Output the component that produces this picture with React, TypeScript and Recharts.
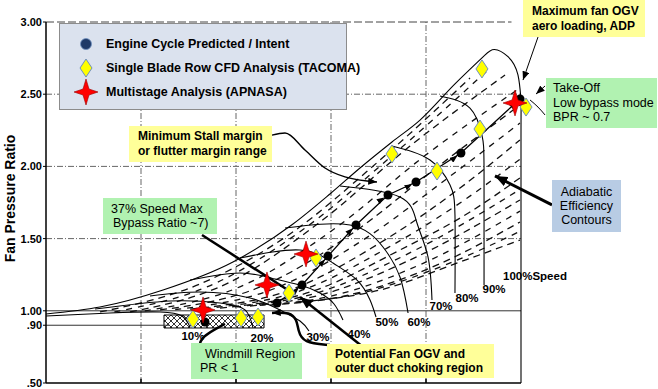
import React from "react";
import {
  ComposedChart,
  Line,
  Scatter,
  XAxis,
  YAxis,
  ReferenceLine,
  ReferenceArea,
  ReferenceDot,
} from "recharts";

type Pt = { x: number; y: number };

// values (x = flow, arbitrary units; y = fan pressure ratio)
const engineCycle: Pt[] = [
  { x: 1.674, y: 0.922 },
  { x: 2.432, y: 1.054 },
  { x: 2.695, y: 1.179 },
  { x: 2.968, y: 1.379 },
  { x: 3.263, y: 1.594 },
  { x: 3.6, y: 1.802 },
  { x: 3.895, y: 1.892 },
  { x: 4.368, y: 2.093 },
  { x: 4.99, y: 2.467 },
];
const tacoma: Pt[] = [
  { x: 1.547, y: 0.943 },
  { x: 2.053, y: 0.95 },
  { x: 2.232, y: 0.957 },
  { x: 2.558, y: 1.123 },
  { x: 2.842, y: 1.366 },
  { x: 3.642, y: 2.086 },
  { x: 4.116, y: 1.968 },
  { x: 4.568, y: 2.259 },
  { x: 4.589, y: 2.675 },
  { x: 5.053, y: 2.411 },
];
const apnasa: Pt[] = [
  { x: 1.653, y: 1.006 },
  { x: 2.326, y: 1.179 },
  { x: 2.737, y: 1.393 },
  { x: 4.937, y: 2.439 },
];

const yTicks = [0.5, 0.9, 1.0, 1.5, 2.0, 2.5, 3.0];
const gridY = [1.5, 2.0, 2.5];
const gridX = [1, 2, 3, 4];

const stallLine: Pt[] = [
  { x: 0, y: 0.978 },
  { x: 0.568, y: 1.026 },
  { x: 1.232, y: 1.144 },
  { x: 1.968, y: 1.338 },
  { x: 2.6, y: 1.601 },
  { x: 2.989, y: 1.809 },
  { x: 3.305, y: 1.989 },
  { x: 3.642, y: 2.169 },
  { x: 3.937, y: 2.321 },
  { x: 4.305, y: 2.571 },
  { x: 4.62, y: 2.77 },
];
const speed100: Pt[] = [
  { x: 4.62, y: 2.77 },
  { x: 4.72, y: 2.81 },
  { x: 4.863, y: 2.76 },
  { x: 4.968, y: 2.633 },
  { x: 5.0, y: 2.46 },
  { x: 5.0, y: 2.2 },
  { x: 5.0, y: 0.5 },
];
const speed10: Pt[] = [
  { x: 0, y: 0.964 },
  { x: 0.674, y: 0.985 },
  { x: 1.2, y: 0.992 },
  { x: 1.432, y: 0.964 },
  { x: 1.516, y: 0.888 },
];
const speed20: Pt[] = [
  { x: 0.516, y: 1.012 },
  { x: 1.305, y: 1.068 },
  { x: 1.832, y: 1.054 },
  { x: 2.095, y: 1.006 },
  { x: 2.179, y: 0.881 },
];
const speed30: Pt[] = [
  { x: 1.095, y: 1.102 },
  { x: 1.621, y: 1.13 },
  { x: 2.147, y: 1.089 },
  { x: 2.463, y: 1.006 },
  { x: 2.674, y: 0.929 },
  { x: 2.768, y: 0.86 },
];
const speed40: Pt[] = [
  { x: 1.516, y: 1.213 },
  { x: 2.042, y: 1.262 },
  { x: 2.411, y: 1.22 },
  { x: 2.674, y: 1.179 },
  { x: 2.884, y: 1.123 },
  { x: 3.032, y: 1.047 },
  { x: 3.126, y: 0.936 },
];
const speed50: Pt[] = [
  { x: 2.042, y: 1.366 },
  { x: 2.674, y: 1.421 },
  { x: 3.021, y: 1.331 },
  { x: 3.274, y: 1.213 },
  { x: 3.411, y: 1.075 },
  { x: 3.474, y: 0.957 },
];
const speed60: Pt[] = [
  { x: 2.516, y: 1.573 },
  { x: 3.2, y: 1.594 },
  { x: 3.547, y: 1.442 },
  { x: 3.726, y: 1.234 },
  { x: 3.811, y: 0.985 },
];
const speed70: Pt[] = [
  { x: 3.095, y: 1.864 },
  { x: 3.726, y: 1.788 },
  { x: 3.905, y: 1.608 },
  { x: 4.021, y: 1.373 },
  { x: 4.063, y: 1.075 },
];
const speed80: Pt[] = [
  { x: 3.642, y: 2.141 },
  { x: 4.042, y: 2.044 },
  { x: 4.253, y: 1.871 },
  { x: 4.305, y: 1.663 },
  { x: 4.305, y: 1.123 },
];
const speed90: Pt[] = [
  { x: 4.147, y: 2.488 },
  { x: 4.463, y: 2.404 },
  { x: 4.589, y: 2.217 },
  { x: 4.611, y: 1.975 },
  { x: 4.611, y: 1.179 },
];

// adiabatic efficiency contours (dashed)
const contour1: Pt[] = [
  { x: 0.568, y: 0.992 },
  { x: 1.621, y: 1.186 },
  { x: 2.568, y: 1.532 },
  { x: 3.516, y: 2.044 },
  { x: 4.463, y: 2.612 },
];
const contour2: Pt[] = [
  { x: 0.72, y: 0.992 },
  { x: 1.78, y: 1.19 },
  { x: 2.72, y: 1.57 },
  { x: 3.67, y: 2.09 },
  { x: 4.64, y: 2.66 },
];
const contour3: Pt[] = [
  { x: 0.884, y: 0.992 },
  { x: 1.937, y: 1.199 },
  { x: 2.884, y: 1.615 },
  { x: 3.832, y: 2.141 },
  { x: 4.832, y: 2.633 },
];
const contour4: Pt[] = [
  { x: 1.04, y: 0.999 },
  { x: 2.09, y: 1.18 },
  { x: 3.04, y: 1.57 },
  { x: 3.99, y: 2.075 },
  { x: 4.96, y: 2.53 },
];
const contour5: Pt[] = [
  { x: 1.2, y: 1.006 },
  { x: 2.253, y: 1.165 },
  { x: 3.2, y: 1.525 },
  { x: 4.147, y: 2.01 },
  { x: 4.989, y: 2.425 },
];
const contour6: Pt[] = [
  { x: 1.36, y: 1.009 },
  { x: 2.41, y: 1.155 },
  { x: 3.36, y: 1.5 },
  { x: 4.25, y: 1.93 },
  { x: 4.989, y: 2.3 },
];
const contour7: Pt[] = [
  { x: 1.516, y: 1.012 },
  { x: 2.568, y: 1.144 },
  { x: 3.516, y: 1.47 },
  { x: 4.358, y: 1.85 },
  { x: 4.989, y: 2.183 },
];
const contour8: Pt[] = [
  { x: 1.67, y: 1.015 },
  { x: 2.67, y: 1.137 },
  { x: 3.62, y: 1.445 },
  { x: 4.41, y: 1.77 },
  { x: 4.989, y: 2.05 },
];
const contour9: Pt[] = [
  { x: 1.832, y: 1.019 },
  { x: 2.779, y: 1.13 },
  { x: 3.726, y: 1.421 },
  { x: 4.463, y: 1.684 },
  { x: 4.989, y: 1.92 },
];
const contour10: Pt[] = [
  { x: 1.99, y: 1.026 },
  { x: 2.83, y: 1.12 },
  { x: 3.78, y: 1.385 },
  { x: 4.989, y: 1.84 },
];
const contour11: Pt[] = [
  { x: 2.147, y: 1.033 },
  { x: 2.884, y: 1.109 },
  { x: 3.832, y: 1.352 },
  { x: 4.989, y: 1.767 },
];
const contour12: Pt[] = [
  { x: 2.25, y: 1.037 },
  { x: 2.99, y: 1.1 },
  { x: 3.94, y: 1.32 },
  { x: 4.989, y: 1.69 },
];
const contour13: Pt[] = [
  { x: 2.358, y: 1.04 },
  { x: 3.095, y: 1.096 },
  { x: 4.042, y: 1.296 },
  { x: 4.989, y: 1.615 },
];
const contour14: Pt[] = [
  { x: 2.5, y: 1.05 },
  { x: 3.3, y: 1.12 },
  { x: 4.2, y: 1.317 },
  { x: 4.989, y: 1.55 },
];
const contour15: Pt[] = [
  { x: 2.674, y: 1.061 },
  { x: 3.516, y: 1.144 },
  { x: 4.358, y: 1.338 },
  { x: 4.989, y: 1.49 },
];

const speedLabels = [
  { x: 1.547, y: 0.825, text: "10%" },
  { x: 2.274, y: 0.812, text: "20%" },
  { x: 2.863, y: 0.819, text: "30%" },
  { x: 3.295, y: 0.839, text: "40%" },
  { x: 3.589, y: 0.922, text: "50%" },
  { x: 3.926, y: 0.922, text: "60%" },
  { x: 4.158, y: 1.033, text: "70%" },
  { x: 4.432, y: 1.089, text: "80%" },
  { x: 4.716, y: 1.151, text: "90%" },
  { x: 5.147, y: 1.241, text: "100%Speed" },
];

// leader lines for the callouts
const stallLeader: Pt[] = [
  { x: 2.379, y: 2.217 },
  { x: 2.516, y: 2.231 },
  { x: 2.726, y: 2.114 },
  { x: 2.937, y: 1.989 },
  { x: 3.147, y: 1.927 },
  { x: 3.484, y: 1.892 },
];
const chokeLeader: Pt[] = [
  { x: 2.989, y: 0.763 },
  { x: 2.705, y: 0.777 },
  { x: 2.653, y: 0.867 },
  { x: 2.642, y: 0.936 },
  { x: 2.568, y: 0.992 },
  { x: 2.379, y: 0.985 },
];
const windmillLeader: Pt[] = [
  { x: 1.621, y: 0.715 },
  { x: 1.653, y: 0.812 },
  { x: 1.884, y: 0.909 },
];
const takeoffLeader: Pt[] = [
  { x: 5.095, y: 2.46 },
  { x: 5.179, y: 2.411 },
  { x: 5.253, y: 2.356 },
];
const operatingLine = engineCycle.slice(1);

const windmillBox = { x1: 1.242, x2: 2.295, y1: 0.881, y2: 0.971 };

const FONT = "'Liberation Sans', Arial, sans-serif";

const speedCurves = [speed10, speed20, speed30, speed40, speed50, speed60, speed70, speed80, speed90];
const contours = [
  contour1, contour2, contour3, contour4, contour5, contour6, contour7, contour8,
  contour9, contour10, contour11, contour12, contour13, contour14, contour15,
];

const Diamond = (p: any) => (
  <polygon
    points={`${p.cx},${p.cy - 9} ${p.cx + 6},${p.cy} ${p.cx},${p.cy + 9} ${p.cx - 6},${p.cy}`}
    fill="#ffff00"
    stroke="#6f8fbf"
    strokeWidth={1}
  />
);
const Star = (p: any) => (
  <polygon
    points={`${p.cx},${p.cy - 13} ${p.cx + 3},${p.cy - 3} ${p.cx + 12},${p.cy} ${p.cx + 3},${p.cy + 3} ${p.cx},${p.cy + 13} ${p.cx - 3},${p.cy + 3} ${p.cx - 12},${p.cy} ${p.cx - 3},${p.cy - 3}`}
    fill="#ff0000"
    stroke="#990000"
    strokeWidth={0.6}
  />
);
const Dot = (p: any) => <circle cx={p.cx} cy={p.cy} r={4.5} fill="#000" />;

type BoxProps = {
  left: number;
  top: number;
  width: number;
  height: number;
  bg: string;
  bold?: boolean;
  center?: boolean;
  size: number;
  lh: number;
  padTop: number;
  padLeft?: number;
  lines: string[];
  indents?: number[];
};
const Note = (b: BoxProps) => (
  <div
    style={{
      position: "absolute",
      left: b.left,
      top: b.top,
      width: b.width,
      height: b.height,
      background: b.bg,
      boxSizing: "border-box",
      paddingTop: b.padTop,
      paddingLeft: b.padLeft ?? 0,
      fontWeight: b.bold ? 700 : 400,
      fontSize: b.size,
      lineHeight: `${b.lh}px`,
      textAlign: b.center ? "center" : "left",
      whiteSpace: "nowrap",
      color: "#000",
    }}
  >
    {b.lines.map((l, i) => (
      <div key={l} style={{ paddingLeft: b.indents ? b.indents[i] : 0 }}>
        {l}
      </div>
    ))}
  </div>
);

const fmt = (v: number) => (v < 1 ? v.toFixed(2).slice(1) : v.toFixed(2));

export default function App() {
  return (
    <div
      style={{
        position: "absolute",
        left: 0,
        top: 0,
        width: 658,
        height: 389,
        background: "#fff",
        fontFamily: FONT,
        overflow: "hidden",
      }}
    >
      <ComposedChart width={658} height={389} margin={{ top: 22, right: 4, bottom: 6, left: 8 }}>
        <defs>
          <pattern id="hatch" width="6" height="6" patternUnits="userSpaceOnUse">
            <rect width="6" height="6" fill="#fff" />
            <path d="M0,0 L6,6 M6,0 L0,6" stroke="#000" strokeWidth={0.8} />
          </pattern>
          <marker id="arr" viewBox="0 0 10 8" refX="10" refY="4" markerWidth="9" markerHeight="7" markerUnits="userSpaceOnUse" orient="auto">
            <path d="M0,0 L10,4 L0,8 z" fill="#000" />
          </marker>
          <marker id="arrBig" viewBox="0 0 10 8" refX="10" refY="4" markerWidth="13" markerHeight="10" markerUnits="userSpaceOnUse" orient="auto">
            <path d="M0,0 L10,4 L0,8 z" fill="#000" />
          </marker>
          <marker id="arrMid" viewBox="0 0 10 8" refX="16" refY="4" markerWidth="8" markerHeight="6" markerUnits="userSpaceOnUse" orient="auto">
            <path d="M0,0 L10,4 L0,8 z" fill="#000" />
          </marker>
        </defs>
        <XAxis dataKey="x" type="number" domain={[0, 6.4]} hide allowDataOverflow />
        <YAxis
          dataKey="y"
          type="number"
          domain={[0.5, 3]}
          ticks={yTicks}
          tickFormatter={fmt}
          width={38}
          allowDataOverflow
          interval={0}
          tickSize={3}
          tickMargin={1}
          axisLine={{ stroke: "#000", strokeWidth: 1.5 }}
          tickLine={{ stroke: "#000" }}
          tick={{ fill: "#000", fontSize: 11, fontWeight: 700, fontFamily: FONT }}
          label={{
            value: "Fan Pressure Ratio",
            angle: -90,
            position: "insideLeft",
            offset: 2,
            dy: -4,
            style: { textAnchor: "middle", fontSize: 14, fontWeight: 700, fill: "#000", fontFamily: FONT },
          }}
        />

        {gridY.map((v) => (
          <ReferenceLine
            key={`gy${v}`}
            segment={[{ x: 0, y: v }, { x: 5, y: v }]}
            stroke="#666"
            strokeDasharray="6 2 1 2"
          />
        ))}
        {gridX.map((v) => (
          <ReferenceLine
            key={`gx${v}`}
            segment={[{ x: v, y: 0.5 }, { x: v, y: 3 }]}
            stroke="#666"
            strokeDasharray="6 2 1 2"
          />
        ))}
        {gridX.map((v) => (
          <ReferenceLine key={`tx${v}`} segment={[{ x: v, y: 0.5 }, { x: v, y: 0.53 }]} stroke="#000" strokeWidth={1.5} />
        ))}
        <ReferenceLine segment={[{ x: 0, y: 3 }, { x: 4.9, y: 3 }]} stroke="#444" strokeDasharray="8 3" />
        <ReferenceLine segment={[{ x: 0, y: 0.5 }, { x: 5, y: 0.5 }]} stroke="#000" strokeWidth={1.5} />
        <ReferenceLine segment={[{ x: 0, y: 1 }, { x: 5, y: 1 }]} stroke="#333" />
        <ReferenceLine segment={[{ x: 0, y: 0.9 }, { x: 1.3, y: 0.9 }]} stroke="#333" />

        <ReferenceArea {...windmillBox} fill="url(#hatch)" fillOpacity={1} stroke="#000" strokeWidth={1} />

        {contours.map((c, i) => (
          <Line
            key={`c${i}`}
            data={c}
            dataKey="y"
            type="monotone"
            stroke="#111"
            strokeWidth={1.3}
            strokeDasharray={i % 2 ? "6 6" : "7 5"}
            dot={false}
            activeDot={false}
            isAnimationActive={false}
          />
        ))}
        {speedCurves.map((c, i) => (
          <Line
            key={`s${i}`}
            data={c}
            dataKey="y"
            type="natural"
            stroke="#000"
            strokeWidth={1.1}
            dot={false}
            activeDot={false}
            isAnimationActive={false}
          />
        ))}
        <Line data={stallLine} dataKey="y" type="monotone" stroke="#000" strokeWidth={1.1} dot={false} activeDot={false} isAnimationActive={false} />
        <Line data={speed100} dataKey="y" type="natural" stroke="#000" strokeWidth={1.1} dot={false} activeDot={false} isAnimationActive={false} />

        <Line
          data={operatingLine}
          dataKey="y"
          type="linear"
          stroke="#000"
          strokeWidth={1.3}
          markerMid="url(#arrMid)"
          markerEnd="url(#arrMid)"
          dot={false}
          activeDot={false}
          isAnimationActive={false}
        />
        <Line data={stallLeader} dataKey="y" type="monotone" stroke="#000" strokeWidth={1.4} markerEnd="url(#arr)" dot={false} activeDot={false} isAnimationActive={false} />
        <Line data={chokeLeader} dataKey="y" type="basis" stroke="#000" strokeWidth={2.5} markerEnd="url(#arr)" dot={false} activeDot={false} isAnimationActive={false} />
        <Line data={windmillLeader} dataKey="y" type="natural" stroke="#000" strokeWidth={2.5} dot={false} activeDot={false} isAnimationActive={false} />
        <Line data={takeoffLeader} dataKey="y" type="natural" stroke="#000" strokeWidth={1} dot={false} activeDot={false} isAnimationActive={false} />

        <ReferenceLine segment={[{ x: 1.642, y: 1.525 }, { x: 2.611, y: 1.116 }]} stroke="#000" strokeWidth={2.5} />
        <ReferenceLine segment={[{ x: 3.337, y: 0.749 }, { x: 2.674, y: 1.096 }]} stroke="#000" strokeWidth={2.5} markerEnd="url(#arrBig)" />
        <ReferenceLine segment={[{ x: 5.326, y: 1.733 }, { x: 4.726, y: 1.934 }]} stroke="#000" strokeWidth={3} markerEnd="url(#arrBig)" />
        <ReferenceLine segment={[{ x: 5.179, y: 2.896 }, { x: 5.021, y: 2.598 }]} stroke="#000" strokeWidth={1} markerEnd="url(#arr)" />
        <ReferenceLine segment={[{ x: 5.253, y: 2.557 }, { x: 5.158, y: 2.501 }]} stroke="#000" strokeWidth={1} markerEnd="url(#arr)" />

        <Scatter data={engineCycle} shape={Dot} isAnimationActive={false} />
        <Scatter data={tacoma} shape={Diamond} isAnimationActive={false} />
        <Scatter data={apnasa} shape={Star} isAnimationActive={false} />

        {speedLabels.map((s) => (
          <ReferenceDot
            key={s.text}
            x={s.x}
            y={s.y}
            r={1}
            fill="none"
            stroke="none"
            label={{ value: s.text, position: "center", fontSize: 11.5, fontWeight: 700, fill: "#000", fontFamily: FONT }}
          />
        ))}
      </ComposedChart>

      {/* legend */}
      <div
        style={{
          position: "absolute",
          left: 59,
          top: 23,
          width: 288,
          height: 87,
          background: "#dbe2ee",
          border: "1px solid #8c8c8c",
          boxSizing: "border-box",
        }}
      >
        <svg width={50} height={85} style={{ position: "absolute", left: 0, top: 0 }}>
          <circle cx={26} cy={20} r={5.5} fill="#1f3a68" stroke="#6f8fbf" strokeWidth={0.8} />
          <Diamond cx={26} cy={44} />
          <Star cx={26} cy={68} />
        </svg>
        {[
          "Engine Cycle Predicted / Intent",
          "Single Blade Row CFD Analysis (TACOMA)",
          "Multistage Analysis (APNASA)",
        ].map((t, i) => (
          <div
            key={t}
            style={{
              position: "absolute",
              left: 46,
              top: 12 + i * 24,
              fontSize: 12.5,
              fontWeight: 700,
              lineHeight: "16px",
              whiteSpace: "nowrap",
              color: "#000",
            }}
          >
            {t}
          </div>
        ))}
      </div>

      <Note left={523} top={0} width={122} height={37} bg="#ffff99" bold size={12} lh={15} padTop={4} padLeft={9} lines={["Maximum fan OGV", "aero loading, ADP"]} />
      <Note left={546} top={78} width={111} height={50} bg="#b1f2b1" size={12.5} lh={14.5} padTop={3} padLeft={7} lines={["Take-Off", "Low bypass mode", "BPR ~ 0.7"]} />
      <Note left={129} top={126} width={143} height={36} bg="#ffff99" bold size={12} lh={15} padTop={2.5} padLeft={9} lines={["Minimum Stall margin", "or flutter margin range"]} />
      <Note left={103} top={198} width={114} height={36} bg="#b1f2b1" size={12.5} lh={14} padTop={4} padLeft={8} lines={["37% Speed Max", "Bypass Ratio ~7)"]} indents={[0, 2]} />
      <Note left={191} top={343} width={111} height={36} bg="#b1f2b1" size={12.5} lh={14} padTop={4} padLeft={9} lines={["Windmill Region", "PR < 1"]} indents={[5, 0]} />
      <Note left={327} top={344} width={167} height={34} bg="#ffff99" bold size={12} lh={14} padTop={3} padLeft={8} lines={["Potential Fan OGV and", "outer duct choking region"]} />
      <Note left={552} top={180} width={69} height={52} bg="#b8cce4" center size={12.5} lh={14} padTop={5} lines={["Adiabatic", "Efficiency", "Contours"]} />
    </div>
  );
}
